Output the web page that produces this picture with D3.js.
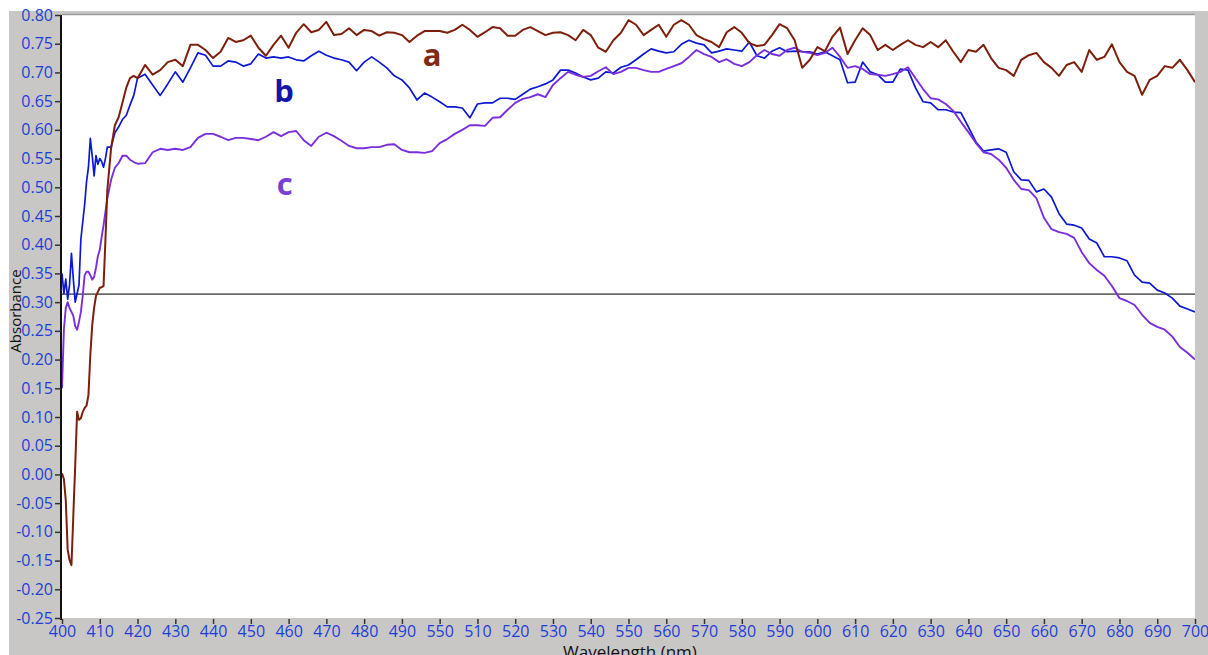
<!DOCTYPE html>
<html>
<head>
<meta charset="utf-8">
<script src="https://cdn.jsdelivr.net/npm/d3@7"></script>
<style>
  html, body { margin: 0; padding: 0; background: #ffffff; }
  svg { display: block; }
</style>
</head>
<body>
<svg id="chart" width="1208" height="655"></svg>
<script>
// ---------------- DATA ----------------
const wavelengths = [
  400,400.5,401,401.5,402,402.5,403,403.5,404,404.5,405,405.5,406,406.5,407,407.5,408,408.5,409,409.5,410,410.5,411,411.5,412,
  413,414,415,416,417,418,419,420,
  422,424,426,428,430,432,434,436,438,440,
  442,444,446,448,450,452,454,456,458,460,
  462,464,466,468,470,472,474,476,478,480,
  482,484,486,488,490,492,494,496,498,500,
  502,504,506,508,510,512,514,516,518,520,
  522,524,526,528,530,532,534,536,538,540,
  542,544,546,548,550,552,554,556,558,560,
  562,564,566,568,570,572,574,576,578,580,
  582,584,586,588,590,592,594,596,598,600,
  602,604,606,608,610,612,614,616,618,620,
  622,624,626,628,630,632,634,636,638,640,
  642,644,646,648,650,652,654,656,658,660,
  662,664,666,668,670,672,674,676,678,680,
  682,684,686,688,690,692,694,696,698,700
];

const seriesA = [
  0.002,-0.008,-0.045,-0.131,-0.149,-0.158,-0.071,0.016,0.109,0.095,0.098,0.109,0.116,0.12,0.138,0.208,0.26,0.29,0.311,0.318,0.325,0.326,0.328,0.408,0.495,
  0.568,0.608,0.622,0.647,0.673,0.69,0.694,0.69,
  0.713,0.696,0.704,0.718,0.722,0.711,0.748,0.748,0.739,0.725,
  0.736,0.76,0.753,0.756,0.764,0.743,0.729,0.748,0.764,0.743,
  0.769,0.784,0.77,0.774,0.788,0.765,0.767,0.777,0.765,0.774,
  0.772,0.764,0.77,0.769,0.765,0.753,0.764,0.772,0.772,0.772,
  0.769,0.774,0.783,0.774,0.762,0.77,0.779,0.777,0.764,0.764,
  0.774,0.779,0.772,0.765,0.769,0.77,0.765,0.756,0.774,0.765,
  0.743,0.736,0.756,0.769,0.791,0.783,0.765,0.774,0.783,0.762,
  0.783,0.791,0.783,0.765,0.758,0.753,0.744,0.77,0.779,0.769,
  0.751,0.746,0.748,0.765,0.784,0.777,0.756,0.708,0.722,0.744,
  0.737,0.762,0.778,0.732,0.756,0.777,0.765,0.739,0.748,0.739,
  0.748,0.756,0.748,0.744,0.753,0.744,0.756,0.736,0.718,0.739,
  0.736,0.748,0.725,0.708,0.704,0.694,0.722,0.73,0.734,0.718,
  0.708,0.694,0.713,0.718,0.701,0.739,0.722,0.727,0.749,0.718,
  0.701,0.694,0.661,0.687,0.694,0.711,0.708,0.722,0.704,0.683
];

const seriesB = [
  0.35,0.315,0.34,0.305,0.33,0.385,0.34,0.30,0.315,0.33,0.41,0.44,0.47,0.51,0.535,0.585,0.555,0.52,0.555,0.54,0.55,0.545,0.535,0.55,0.57,
  0.57,0.595,0.605,0.618,0.625,0.643,0.66,0.69,
  0.697,0.678,0.66,0.68,0.701,0.683,0.708,0.734,0.73,0.711,
  0.711,0.72,0.718,0.711,0.715,0.732,0.725,0.727,0.725,0.727,
  0.722,0.72,0.729,0.737,0.73,0.725,0.722,0.718,0.703,0.718,
  0.727,0.718,0.708,0.694,0.687,0.673,0.652,0.664,0.657,0.649,
  0.64,0.64,0.638,0.621,0.645,0.647,0.647,0.655,0.655,0.653,
  0.662,0.671,0.675,0.68,0.687,0.704,0.704,0.699,0.692,0.687,
  0.69,0.701,0.699,0.709,0.713,0.722,0.732,0.741,0.737,0.734,
  0.736,0.749,0.756,0.751,0.748,0.734,0.737,0.741,0.739,0.737,
  0.753,0.729,0.725,0.737,0.743,0.736,0.737,0.736,0.736,0.732,
  0.736,0.729,0.722,0.682,0.683,0.718,0.701,0.696,0.683,0.683,
  0.706,0.704,0.673,0.649,0.647,0.635,0.635,0.631,0.63,0.605,
  0.579,0.563,0.565,0.567,0.561,0.527,0.513,0.512,0.492,0.497,
  0.483,0.454,0.436,0.434,0.429,0.41,0.403,0.379,0.379,0.377,
  0.372,0.347,0.335,0.333,0.321,0.316,0.307,0.293,0.288,0.283
];

const seriesC = [
  0.15,0.252,0.29,0.30,0.29,0.283,0.276,0.258,0.252,0.266,0.283,0.312,0.347,0.353,0.353,0.347,0.339,0.344,0.36,0.38,0.391,0.413,0.434,0.457,0.481,
  0.513,0.534,0.542,0.555,0.555,0.548,0.544,0.541,
  0.542,0.561,0.567,0.565,0.567,0.565,0.57,0.586,0.593,0.593,
  0.588,0.582,0.586,0.586,0.584,0.582,0.588,0.596,0.589,0.596,
  0.598,0.582,0.572,0.588,0.595,0.589,0.581,0.572,0.568,0.568,
  0.57,0.57,0.574,0.575,0.565,0.561,0.561,0.56,0.563,0.577,
  0.584,0.593,0.6,0.608,0.608,0.607,0.621,0.622,0.635,0.647,
  0.654,0.657,0.662,0.657,0.678,0.69,0.701,0.696,0.692,0.694,
  0.702,0.709,0.697,0.701,0.708,0.708,0.704,0.701,0.701,0.706,
  0.711,0.716,0.727,0.739,0.732,0.727,0.718,0.723,0.715,0.711,
  0.718,0.73,0.739,0.732,0.729,0.739,0.743,0.736,0.734,0.73,
  0.734,0.743,0.727,0.708,0.711,0.706,0.697,0.696,0.694,0.697,
  0.701,0.709,0.69,0.671,0.655,0.653,0.645,0.633,0.614,0.596,
  0.577,0.561,0.558,0.548,0.534,0.513,0.497,0.495,0.481,0.447,
  0.427,0.422,0.419,0.412,0.387,0.368,0.356,0.346,0.328,0.307,
  0.302,0.295,0.278,0.264,0.257,0.252,0.24,0.222,0.212,0.2
];

const seriesNames = ["a", "b", "c"];
const baselineValue = 0.314;

const xTickValues = [400,410,420,430,440,450,460,470,480,490,500,510,520,530,540,550,560,570,580,590,600,610,620,630,640,650,660,670,680,690,700];
const xTickLabels = ["400","410","420","430","440","450","460","470","480","490","550","510","520","530","540","550","560","570","580","590","600","610","620","630","640","650","660","670","680","690","700"];
const yTickValues = [-0.25,-0.20,-0.15,-0.10,-0.05,0.00,0.05,0.10,0.15,0.20,0.25,0.30,0.35,0.40,0.45,0.50,0.55,0.60,0.65,0.70,0.75,0.80];
const yTickLabels = ["-0.25","-0.20","-0.15","-0.10","-0.05","0.00","0.05","0.10","0.15","0.20","0.25","0.30","0.35","0.40","0.45","0.50","0.55","0.60","0.65","0.70","0.75","0.80"];

// ---------------- DRAWING ----------------
const svg = d3.select("#chart");
const W = 1208, H = 655;
const plot = { left: 62, right: 1195, top: 15, bottom: 618 };
const FONT = "'Open Sans', 'Noto Sans', sans-serif";

const x = d3.scaleLinear().domain([400, 700]).range([plot.left, plot.right]);
const y = d3.scaleLinear().domain([-0.25, 0.8]).range([plot.bottom, plot.top]);

// gray panel
svg.append("rect").attr("x", 9).attr("y", 11).attr("width", W - 9).attr("height", H - 11)
  .attr("fill", "#c9c6c6");
// white plot area
svg.append("rect").attr("x", plot.left).attr("y", plot.top)
  .attr("width", plot.right - plot.left).attr("height", plot.bottom - plot.top)
  .attr("fill", "#ffffff");
// top border
svg.append("line").attr("x1", plot.left).attr("x2", plot.right)
  .attr("y1", plot.top - 0.5).attr("y2", plot.top - 0.5)
  .attr("stroke", "#9a9a9a").attr("stroke-width", 1.5);

svg.append("defs").append("clipPath").attr("id", "clip")
  .append("rect").attr("x", plot.left).attr("y", plot.top)
  .attr("width", plot.right - plot.left).attr("height", plot.bottom - plot.top);

const g = svg.append("g").attr("clip-path", "url(#clip)");

// horizontal reference line
g.append("line").attr("x1", plot.left).attr("x2", plot.right)
  .attr("y1", y(baselineValue)).attr("y2", y(baselineValue))
  .attr("stroke", "#6a6a6a").attr("stroke-width", 1.6);

const lineGen = vals => d3.line()
  .x((d, i) => x(wavelengths[i]))
  .y(d => y(d))(vals);

const seriesDefs = [
  { vals: seriesB, color: "#0c18d2", width: 1.7 },
  { vals: seriesC, color: "#7a2fdc", width: 1.9 },
  { vals: seriesA, color: "#7d1f0c", width: 2.0 }
];
seriesDefs.forEach(s => {
  g.append("path").attr("d", lineGen(s.vals))
    .attr("fill", "none").attr("stroke", s.color)
    .attr("stroke-width", s.width).attr("stroke-linejoin", "round");
});

// Y axis
const yAxis = d3.axisLeft(y).tickValues(yTickValues)
  .tickFormat((d, i) => yTickLabels[i]).tickSize(6).tickSizeOuter(0).tickPadding(2);
const yg = svg.append("g").attr("transform", `translate(${plot.left - 1},0)`).call(yAxis);
yg.select(".domain").attr("stroke", "#111").attr("stroke-width", 2)
  .attr("d", `M0,${plot.top}V${plot.bottom + 2}`);
yg.selectAll(".tick line").attr("stroke", "#333").attr("stroke-width", 1.5);
yg.selectAll(".tick text").attr("fill", "#1d3fd6")
  .style("font-family", FONT).style("font-size", "16px");

// X axis
const xAxis = d3.axisBottom(x).tickValues(xTickValues)
  .tickFormat((d, i) => xTickLabels[i]).tickSize(5).tickSizeOuter(0).tickPadding(2);
const xg = svg.append("g").attr("transform", `translate(0,${plot.bottom + 1})`).call(xAxis);
xg.select(".domain").remove();
xg.selectAll(".tick line").attr("stroke", "#333").attr("stroke-width", 1.5);
xg.selectAll(".tick text").attr("fill", "#1d3fd6")
  .style("font-family", FONT).style("font-size", "16px");

// axis titles
svg.append("text").attr("transform", `translate(21,311) rotate(-90)`)
  .attr("text-anchor", "middle").attr("fill", "#111")
  .style("font-family", FONT).style("font-size", "15px")
  .text("Absorbance");
svg.append("text").attr("x", 630).attr("y", 658)
  .attr("text-anchor", "middle").attr("fill", "#111")
  .style("font-family", FONT).style("font-size", "17px")
  .text("Wavelength (nm)");

// series labels
const labelPos = [
  { t: seriesNames[0], wl: 498, v: 0.712, color: "#7f2a12" },
  { t: seriesNames[1], wl: 458.8, v: 0.649, color: "#1414a8" },
  { t: seriesNames[2], wl: 459, v: 0.487, color: "#7a3fd4" }
];
labelPos.forEach(l => {
  svg.append("text").attr("x", x(l.wl)).attr("y", y(l.v))
    .attr("text-anchor", "middle").attr("fill", l.color)
    .style("font-family", FONT)
    .style("font-size", "31px").style("font-weight", "bold")
    .text(l.t);
});
</script>
</body>
</html>
